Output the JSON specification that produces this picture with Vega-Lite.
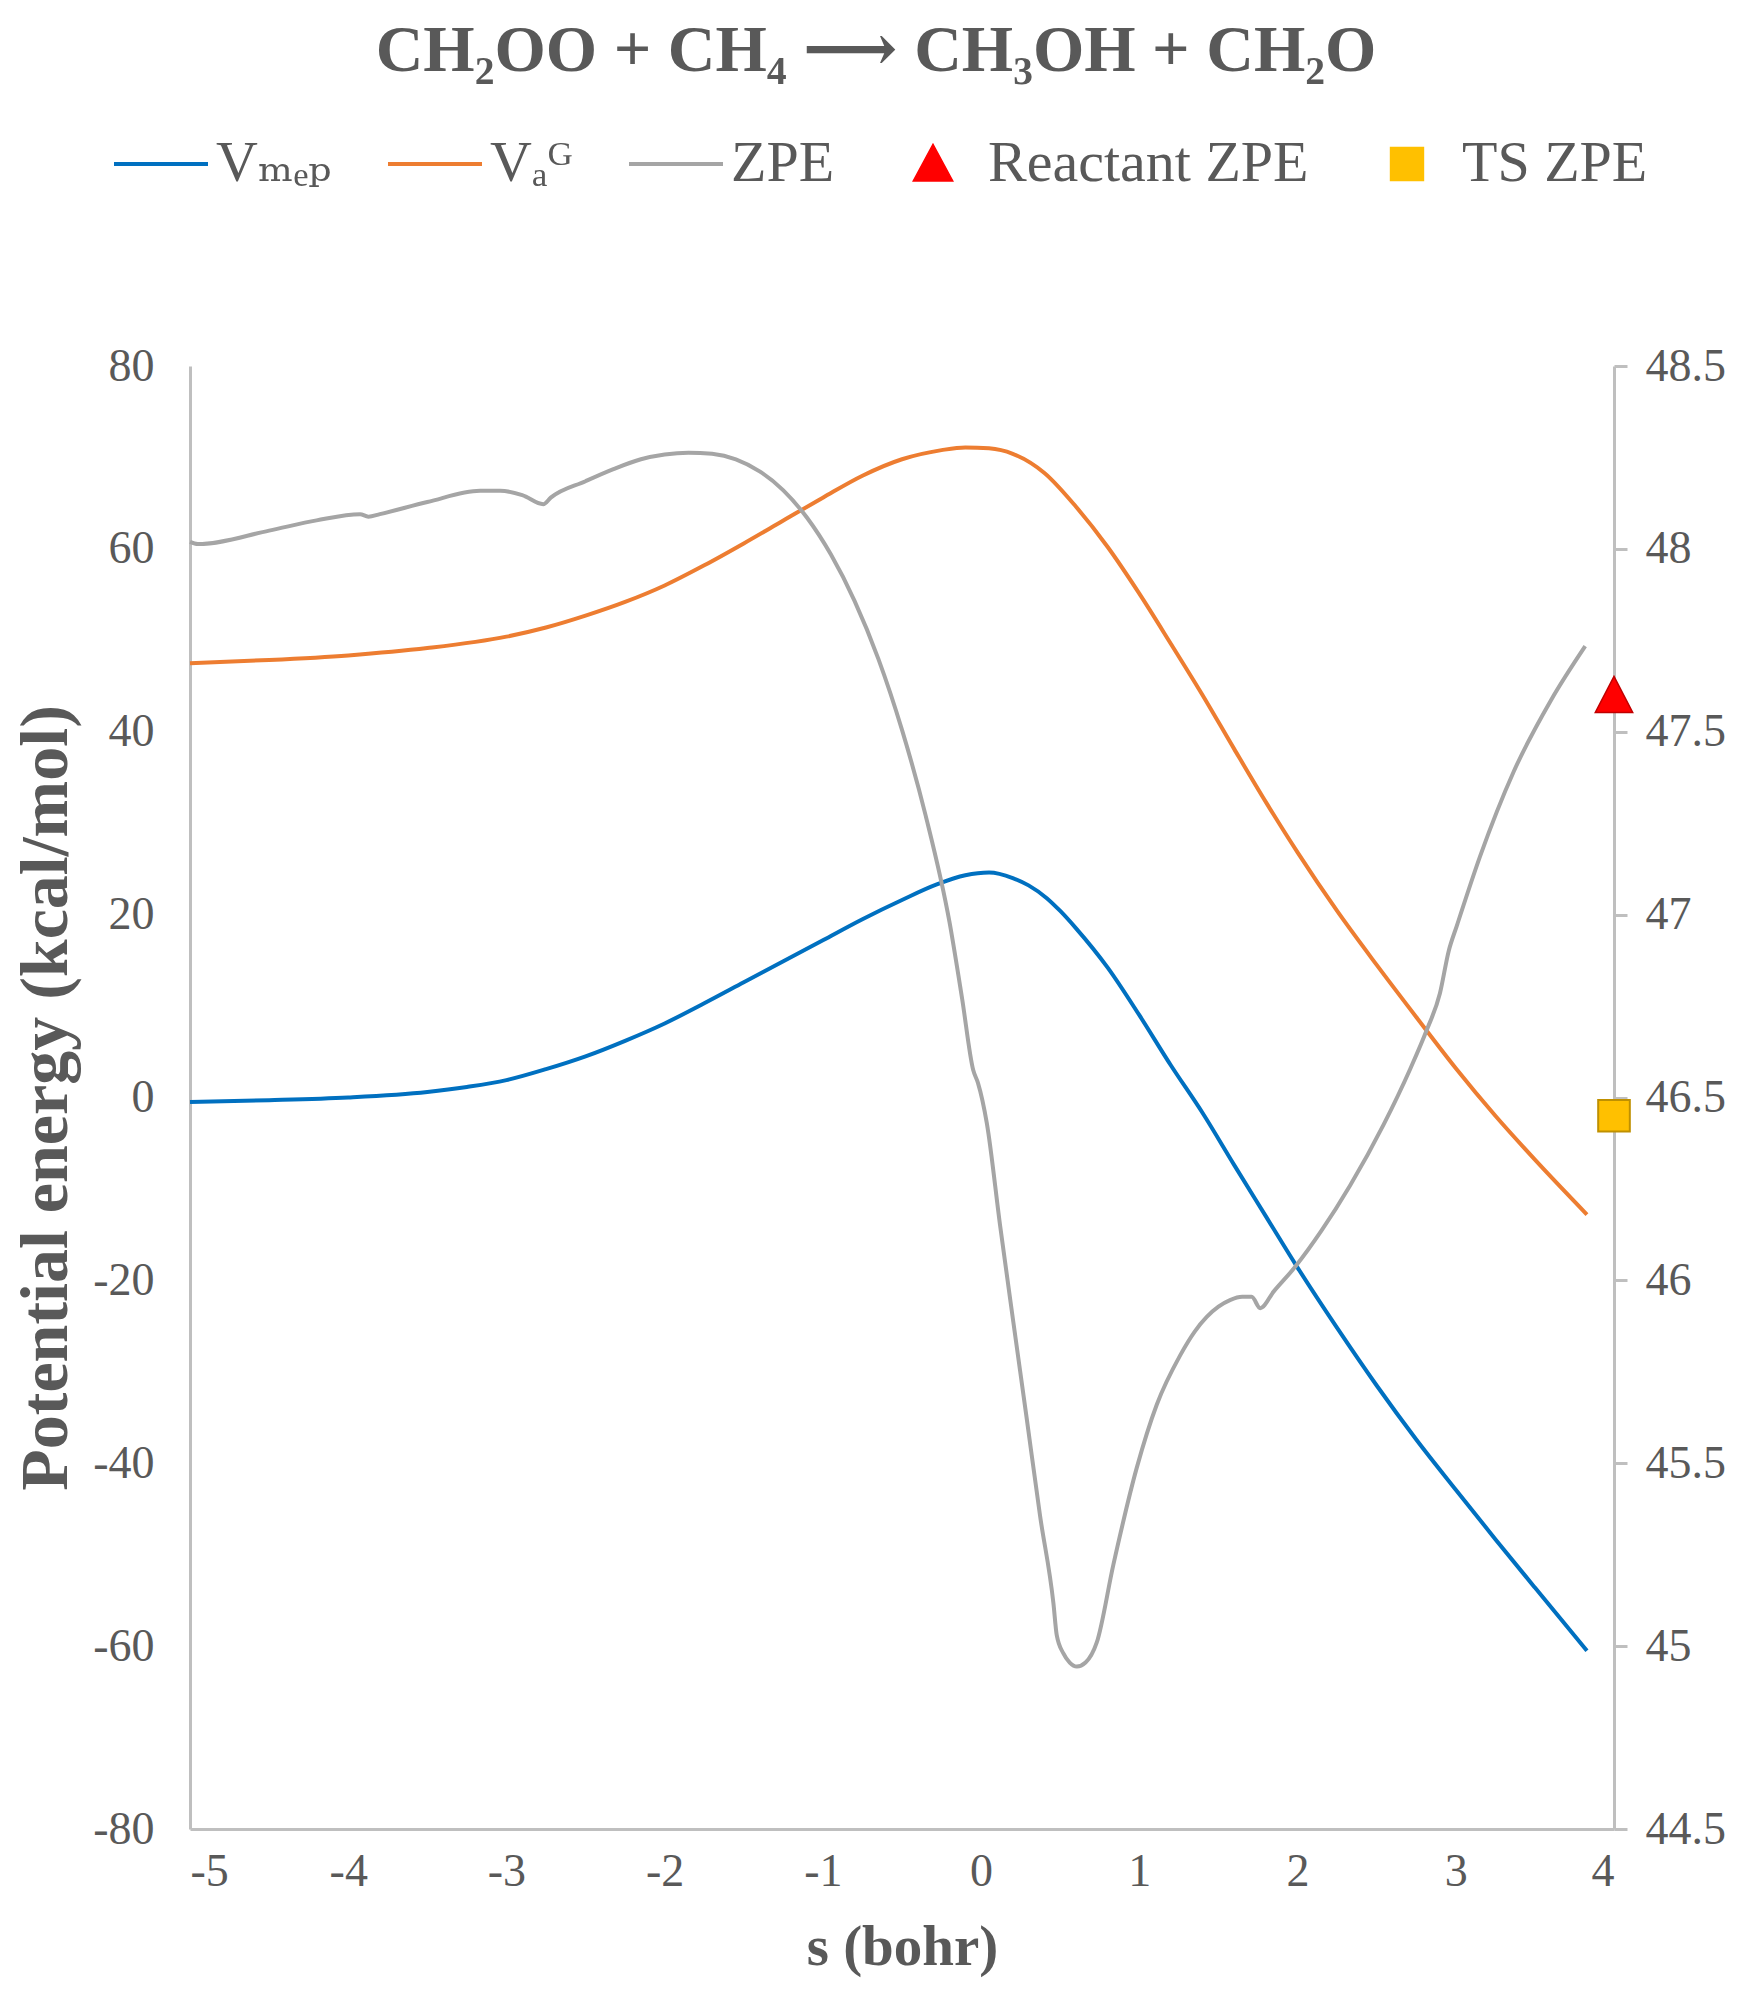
{
  "$schema": "https://vega.github.io/schema/vega-lite/v6.json",
  "description": "Reaction path CH2OO + CH4 -> CH3OH + CH2O: Vmep, VaG on the left axis, ZPE on the right axis.",
  "width": 1424,
  "height": 1463,
  "autosize": "none",
  "padding": {"left": 190, "top": 366, "right": 136, "bottom": 179},
  "background": "white",
  "title": {
    "text": "CH₂OO + CH₄ ⟶ CH₃OH + CH₂O",
    "font": "'Liberation Serif', 'DejaVu Serif', 'DejaVu Sans', serif",
    "fontSize": 66,
    "fontWeight": "bold",
    "color": "#595959",
    "anchor": "middle",
    "frame": "group",
    "baseline": "alphabetic",
    "dx": -26,
    "offset": -2
  },
  "config": {
    "view": {"stroke": null},
    "axis": {
      "grid": false,
      "domainColor": "#BFBFBF",
      "domainWidth": 3,
      "tickColor": "#BFBFBF",
      "tickWidth": 3,
      "labelFont": "Liberation Serif",
      "labelFontSize": 46,
      "labelColor": "#595959",
      "titleFont": "Liberation Serif",
      "titleFontWeight": "bold",
      "titleColor": "#595959"
    }
  },
  "datasets": {
    "pes": [
      {"s": -5.0, "e": -0.5, "series": "Vmep"},
      {"s": -4.5, "e": -0.3, "series": "Vmep"},
      {"s": -4.0, "e": 0.0, "series": "Vmep"},
      {"s": -3.5, "e": 0.6, "series": "Vmep"},
      {"s": -3.25, "e": 1.15, "series": "Vmep"},
      {"s": -3.0, "e": 1.9, "series": "Vmep"},
      {"s": -2.75, "e": 3.1, "series": "Vmep"},
      {"s": -2.5, "e": 4.5, "series": "Vmep"},
      {"s": -2.25, "e": 6.2, "series": "Vmep"},
      {"s": -2.0, "e": 8.1, "series": "Vmep"},
      {"s": -1.75, "e": 10.3, "series": "Vmep"},
      {"s": -1.5, "e": 12.6, "series": "Vmep"},
      {"s": -1.25, "e": 14.9, "series": "Vmep"},
      {"s": -1.0, "e": 17.2, "series": "Vmep"},
      {"s": -0.75, "e": 19.5, "series": "Vmep"},
      {"s": -0.5, "e": 21.6, "series": "Vmep"},
      {"s": -0.28, "e": 23.3, "series": "Vmep"},
      {"s": -0.1, "e": 24.3, "series": "Vmep"},
      {"s": 0.05, "e": 24.6, "series": "Vmep"},
      {"s": 0.2, "e": 24.0, "series": "Vmep"},
      {"s": 0.3, "e": 23.2, "series": "Vmep"},
      {"s": 0.415, "e": 21.8, "series": "Vmep"},
      {"s": 0.5, "e": 20.4, "series": "Vmep"},
      {"s": 0.6, "e": 18.5, "series": "Vmep"},
      {"s": 0.8, "e": 14.2, "series": "Vmep"},
      {"s": 1.0, "e": 9.0, "series": "Vmep"},
      {"s": 1.2, "e": 3.5, "series": "Vmep"},
      {"s": 1.4, "e": -1.7, "series": "Vmep"},
      {"s": 1.6, "e": -7.4, "series": "Vmep"},
      {"s": 1.8, "e": -13.0, "series": "Vmep"},
      {"s": 2.0, "e": -18.6, "series": "Vmep"},
      {"s": 2.25, "e": -25.2, "series": "Vmep"},
      {"s": 2.5, "e": -31.5, "series": "Vmep"},
      {"s": 2.75, "e": -37.4, "series": "Vmep"},
      {"s": 3.0, "e": -42.9, "series": "Vmep"},
      {"s": 3.25, "e": -48.3, "series": "Vmep"},
      {"s": 3.5, "e": -53.6, "series": "Vmep"},
      {"s": 3.829, "e": -60.5, "series": "Vmep"},
      {"s": -5.0, "e": 47.5, "series": "VaG"},
      {"s": -4.5, "e": 47.85, "series": "VaG"},
      {"s": -4.0, "e": 48.35, "series": "VaG"},
      {"s": -3.5, "e": 49.15, "series": "VaG"},
      {"s": -3.0, "e": 50.4, "series": "VaG"},
      {"s": -2.75, "e": 51.4, "series": "VaG"},
      {"s": -2.5, "e": 52.7, "series": "VaG"},
      {"s": -2.25, "e": 54.2, "series": "VaG"},
      {"s": -2.0, "e": 56.0, "series": "VaG"},
      {"s": -1.75, "e": 58.2, "series": "VaG"},
      {"s": -1.5, "e": 60.6, "series": "VaG"},
      {"s": -1.25, "e": 63.1, "series": "VaG"},
      {"s": -1.0, "e": 65.6, "series": "VaG"},
      {"s": -0.75, "e": 68.0, "series": "VaG"},
      {"s": -0.5, "e": 69.8, "series": "VaG"},
      {"s": -0.25, "e": 70.8, "series": "VaG"},
      {"s": -0.1, "e": 71.1, "series": "VaG"},
      {"s": 0.05, "e": 71.0, "series": "VaG"},
      {"s": 0.2, "e": 70.4, "series": "VaG"},
      {"s": 0.4, "e": 68.3, "series": "VaG"},
      {"s": 0.6, "e": 64.6, "series": "VaG"},
      {"s": 0.8, "e": 60.2, "series": "VaG"},
      {"s": 1.0, "e": 55.1, "series": "VaG"},
      {"s": 1.2, "e": 49.6, "series": "VaG"},
      {"s": 1.4, "e": 44.0, "series": "VaG"},
      {"s": 1.6, "e": 38.1, "series": "VaG"},
      {"s": 1.8, "e": 32.3, "series": "VaG"},
      {"s": 2.0, "e": 26.8, "series": "VaG"},
      {"s": 2.25, "e": 20.4, "series": "VaG"},
      {"s": 2.5, "e": 14.5, "series": "VaG"},
      {"s": 2.75, "e": 8.8, "series": "VaG"},
      {"s": 3.0, "e": 3.2, "series": "VaG"},
      {"s": 3.25, "e": -2.0, "series": "VaG"},
      {"s": 3.5, "e": -6.8, "series": "VaG"},
      {"s": 3.829, "e": -12.8, "series": "VaG"}
    ],
    "zpe": [
      {"s": -5.0, "z": 48.019, "series": "ZPE"},
      {"s": -4.95, "z": 48.013, "series": "ZPE"},
      {"s": -4.5, "z": 48.05, "series": "ZPE"},
      {"s": -4.2, "z": 48.078, "series": "ZPE"},
      {"s": -3.925, "z": 48.095, "series": "ZPE"},
      {"s": -3.873, "z": 48.088, "series": "ZPE"},
      {"s": -3.8, "z": 48.095, "series": "ZPE"},
      {"s": -3.5, "z": 48.128, "series": "ZPE"},
      {"s": -3.167, "z": 48.159, "series": "ZPE"},
      {"s": -3.04, "z": 48.159, "series": "ZPE"},
      {"s": -2.9, "z": 48.147, "series": "ZPE"},
      {"s": -2.767, "z": 48.122, "series": "ZPE"},
      {"s": -2.72, "z": 48.14, "series": "ZPE"},
      {"s": -2.5, "z": 48.185, "series": "ZPE"},
      {"s": -2.324, "z": 48.218, "series": "ZPE"},
      {"s": -2.15, "z": 48.245, "series": "ZPE"},
      {"s": -2.0, "z": 48.258, "series": "ZPE"},
      {"s": -1.85, "z": 48.263, "series": "ZPE"},
      {"s": -1.7, "z": 48.26, "series": "ZPE"},
      {"s": -1.55, "z": 48.245, "series": "ZPE"},
      {"s": -1.4, "z": 48.212, "series": "ZPE"},
      {"s": -1.25, "z": 48.16, "series": "ZPE"},
      {"s": -1.1, "z": 48.085, "series": "ZPE"},
      {"s": -0.95, "z": 47.985, "series": "ZPE"},
      {"s": -0.8, "z": 47.858, "series": "ZPE"},
      {"s": -0.65, "z": 47.7, "series": "ZPE"},
      {"s": -0.5, "z": 47.505, "series": "ZPE"},
      {"s": -0.35, "z": 47.27, "series": "ZPE"},
      {"s": -0.2, "z": 46.98, "series": "ZPE"},
      {"s": -0.12, "z": 46.77, "series": "ZPE"},
      {"s": -0.05, "z": 46.575, "series": "ZPE"},
      {"s": -0.02, "z": 46.54, "series": "ZPE"},
      {"s": 0.036, "z": 46.43, "series": "ZPE"},
      {"s": 0.12, "z": 46.15, "series": "ZPE"},
      {"s": 0.204, "z": 45.885, "series": "ZPE"},
      {"s": 0.289, "z": 45.62, "series": "ZPE"},
      {"s": 0.373, "z": 45.355, "series": "ZPE"},
      {"s": 0.457, "z": 45.117, "series": "ZPE"},
      {"s": 0.478, "z": 45.03, "series": "ZPE"},
      {"s": 0.52, "z": 44.98, "series": "ZPE"},
      {"s": 0.56, "z": 44.955, "series": "ZPE"},
      {"s": 0.605, "z": 44.944, "series": "ZPE"},
      {"s": 0.66, "z": 44.955, "series": "ZPE"},
      {"s": 0.731, "z": 45.01, "series": "ZPE"},
      {"s": 0.836, "z": 45.223, "series": "ZPE"},
      {"s": 0.984, "z": 45.488, "series": "ZPE"},
      {"s": 1.11, "z": 45.66, "series": "ZPE"},
      {"s": 1.258, "z": 45.795, "series": "ZPE"},
      {"s": 1.35, "z": 45.86, "series": "ZPE"},
      {"s": 1.426, "z": 45.9, "series": "ZPE"},
      {"s": 1.5, "z": 45.928, "series": "ZPE"},
      {"s": 1.573, "z": 45.946, "series": "ZPE"},
      {"s": 1.65, "z": 45.955, "series": "ZPE"},
      {"s": 1.71, "z": 45.955, "series": "ZPE"},
      {"s": 1.764, "z": 45.924, "series": "ZPE"},
      {"s": 1.85, "z": 45.97, "series": "ZPE"},
      {"s": 1.985, "z": 46.037, "series": "ZPE"},
      {"s": 2.15, "z": 46.135, "series": "ZPE"},
      {"s": 2.333, "z": 46.26, "series": "ZPE"},
      {"s": 2.543, "z": 46.425, "series": "ZPE"},
      {"s": 2.712, "z": 46.578, "series": "ZPE"},
      {"s": 2.817, "z": 46.685, "series": "ZPE"},
      {"s": 2.9, "z": 46.785, "series": "ZPE"},
      {"s": 2.955, "z": 46.9, "series": "ZPE"},
      {"s": 3.007, "z": 46.97, "series": "ZPE"},
      {"s": 3.154, "z": 47.16, "series": "ZPE"},
      {"s": 3.365, "z": 47.39, "series": "ZPE"},
      {"s": 3.6, "z": 47.585, "series": "ZPE"},
      {"s": 3.818, "z": 47.734, "series": "ZPE"}
    ],
    "markers": [
      {"s": 4, "z": 47.6, "series": "Reactant ZPE"},
      {"s": 4, "z": 46.45, "series": "TS ZPE"}
    ]
  },
  "layer": [
    {
      "data": {"name": "pes"},
      "mark": {"type": "line", "strokeWidth": 4, "interpolate": "monotone"},
      "encoding": {
        "x": {
          "field": "s",
          "type": "quantitative",
          "title": "s (bohr)",
          "scale": {"domain": [-5, 4], "nice": false, "zero": false},
          "axis": {
            "values": [-5, -4, -3, -2, -1, 0, 1, 2, 3, 4],
            "labelExpr": "'' + datum.value",
            "ticks": false,
            "labelPadding": 20,
            "titleFontSize": 57,
            "titlePadding": 25
          }
        },
        "y": {
          "field": "e",
          "type": "quantitative",
          "title": "Potential energy (kcal/mol)",
          "scale": {"domain": [-80, 80], "nice": false, "zero": false},
          "axis": {
            "values": [-80, -60, -40, -20, 0, 20, 40, 60, 80],
            "labelExpr": "'' + datum.value",
            "ticks": false,
            "labelPadding": 36,
            "titleFontSize": 68,
            "titlePadding": 12
          }
        },
        "color": {
          "field": "series",
          "type": "nominal",
          "scale": {
            "domain": ["Vmep", "VaG", "ZPE", "Reactant ZPE", "TS ZPE"],
            "range": ["#0070C0", "#ED7D31", "#A5A5A5", "#FF0000", "#FFC000"]
          },
          "legend": {
            "title": null,
            "orient": "none",
            "direction": "horizontal",
            "columns": 5,
            "legendX": -58,
            "legendY": -231,
            "symbolType": "stroke",
            "symbolSize": 8836,
            "symbolStrokeWidth": 4,
            "labelFont": "'Liberation Serif', 'DejaVu Serif', serif",
            "labelFontSize": 58,
            "labelColor": "#595959",
            "labelOffset": 26,
            "labelLimit": 1000,
            "columnPadding": 48,
            "labelExpr": "datum.value == 'Vmep' ? 'Vₘₑₚ' : datum.value == 'VaG' ? 'Vₐᴳ' : datum.label",
            "encode": {
              "symbols": {
                "update": {
                  "shape": {"signal": "datum.value == 'Reactant ZPE' ? 'M-1,0M1,0M0,-0.42L0.42,0.36L-0.42,0.36Z' : datum.value == 'TS ZPE' ? 'M-1,0M1,0M-0.35,-0.35H0.35V0.35H-0.35Z' : 'stroke'"},
                  "size": {"value": 8836},
                  "fill": {"signal": "datum.value == 'Reactant ZPE' ? '#FF0000' : datum.value == 'TS ZPE' ? '#FFC000' : 'transparent'"},
                  "stroke": {"signal": "datum.value == 'Reactant ZPE' ? '#C00000' : datum.value == 'TS ZPE' ? '#BF9000' : datum.value == 'Vmep' ? '#0070C0' : datum.value == 'VaG' ? '#ED7D31' : '#A5A5A5'"},
                  "strokeWidth": {"signal": "datum.value == 'Reactant ZPE' || datum.value == 'TS ZPE' ? 1.5 : 4"},
                  "opacity": {"value": 1}
                }
              }
            }
          }
        }
      }
    },
    {
      "layer": [
        {
          "data": {"name": "zpe"},
          "mark": {"type": "line", "strokeWidth": 4, "interpolate": "monotone"},
          "encoding": {
            "x": {"field": "s", "type": "quantitative", "scale": {"domain": [-5, 4], "nice": false, "zero": false}},
            "y": {
              "field": "z",
              "type": "quantitative",
              "title": null,
              "scale": {"domain": [44.5, 48.5], "nice": false, "zero": false},
              "axis": {
                "orient": "right",
                "values": [44.5, 45, 45.5, 46, 46.5, 47, 47.5, 48, 48.5],
                "labelExpr": "'' + datum.value",
                "ticks": true,
                "tickSize": 13,
                "labelPadding": 18
              }
            },
            "color": {
              "field": "series",
              "type": "nominal",
              "scale": {
                "domain": ["Vmep", "VaG", "ZPE", "Reactant ZPE", "TS ZPE"],
                "range": ["#0070C0", "#ED7D31", "#A5A5A5", "#FF0000", "#FFC000"]
              }
            }
          }
        },
        {
          "data": {"name": "markers"},
          "transform": [{"filter": "datum.series == 'Reactant ZPE'"}],
          "mark": {"type": "point", "shape": "M0,-1L1,0.92L-1,0.92Z", "size": 1400, "filled": true, "fill": "#FF0000", "stroke": "#C00000", "strokeWidth": 1.5, "opacity": 1},
          "encoding": {
            "x": {"field": "s", "type": "quantitative"},
            "y": {"field": "z", "type": "quantitative"}
          }
        },
        {
          "data": {"name": "markers"},
          "transform": [{"filter": "datum.series == 'TS ZPE'"}],
          "mark": {"type": "point", "shape": "square", "size": 1000, "filled": true, "fill": "#FFC000", "stroke": "#BF9000", "strokeWidth": 2, "opacity": 1},
          "encoding": {
            "x": {"field": "s", "type": "quantitative"},
            "y": {"field": "z", "type": "quantitative"}
          }
        }
      ]
    }
  ],
  "resolve": {"scale": {"y": "independent"}}
}
